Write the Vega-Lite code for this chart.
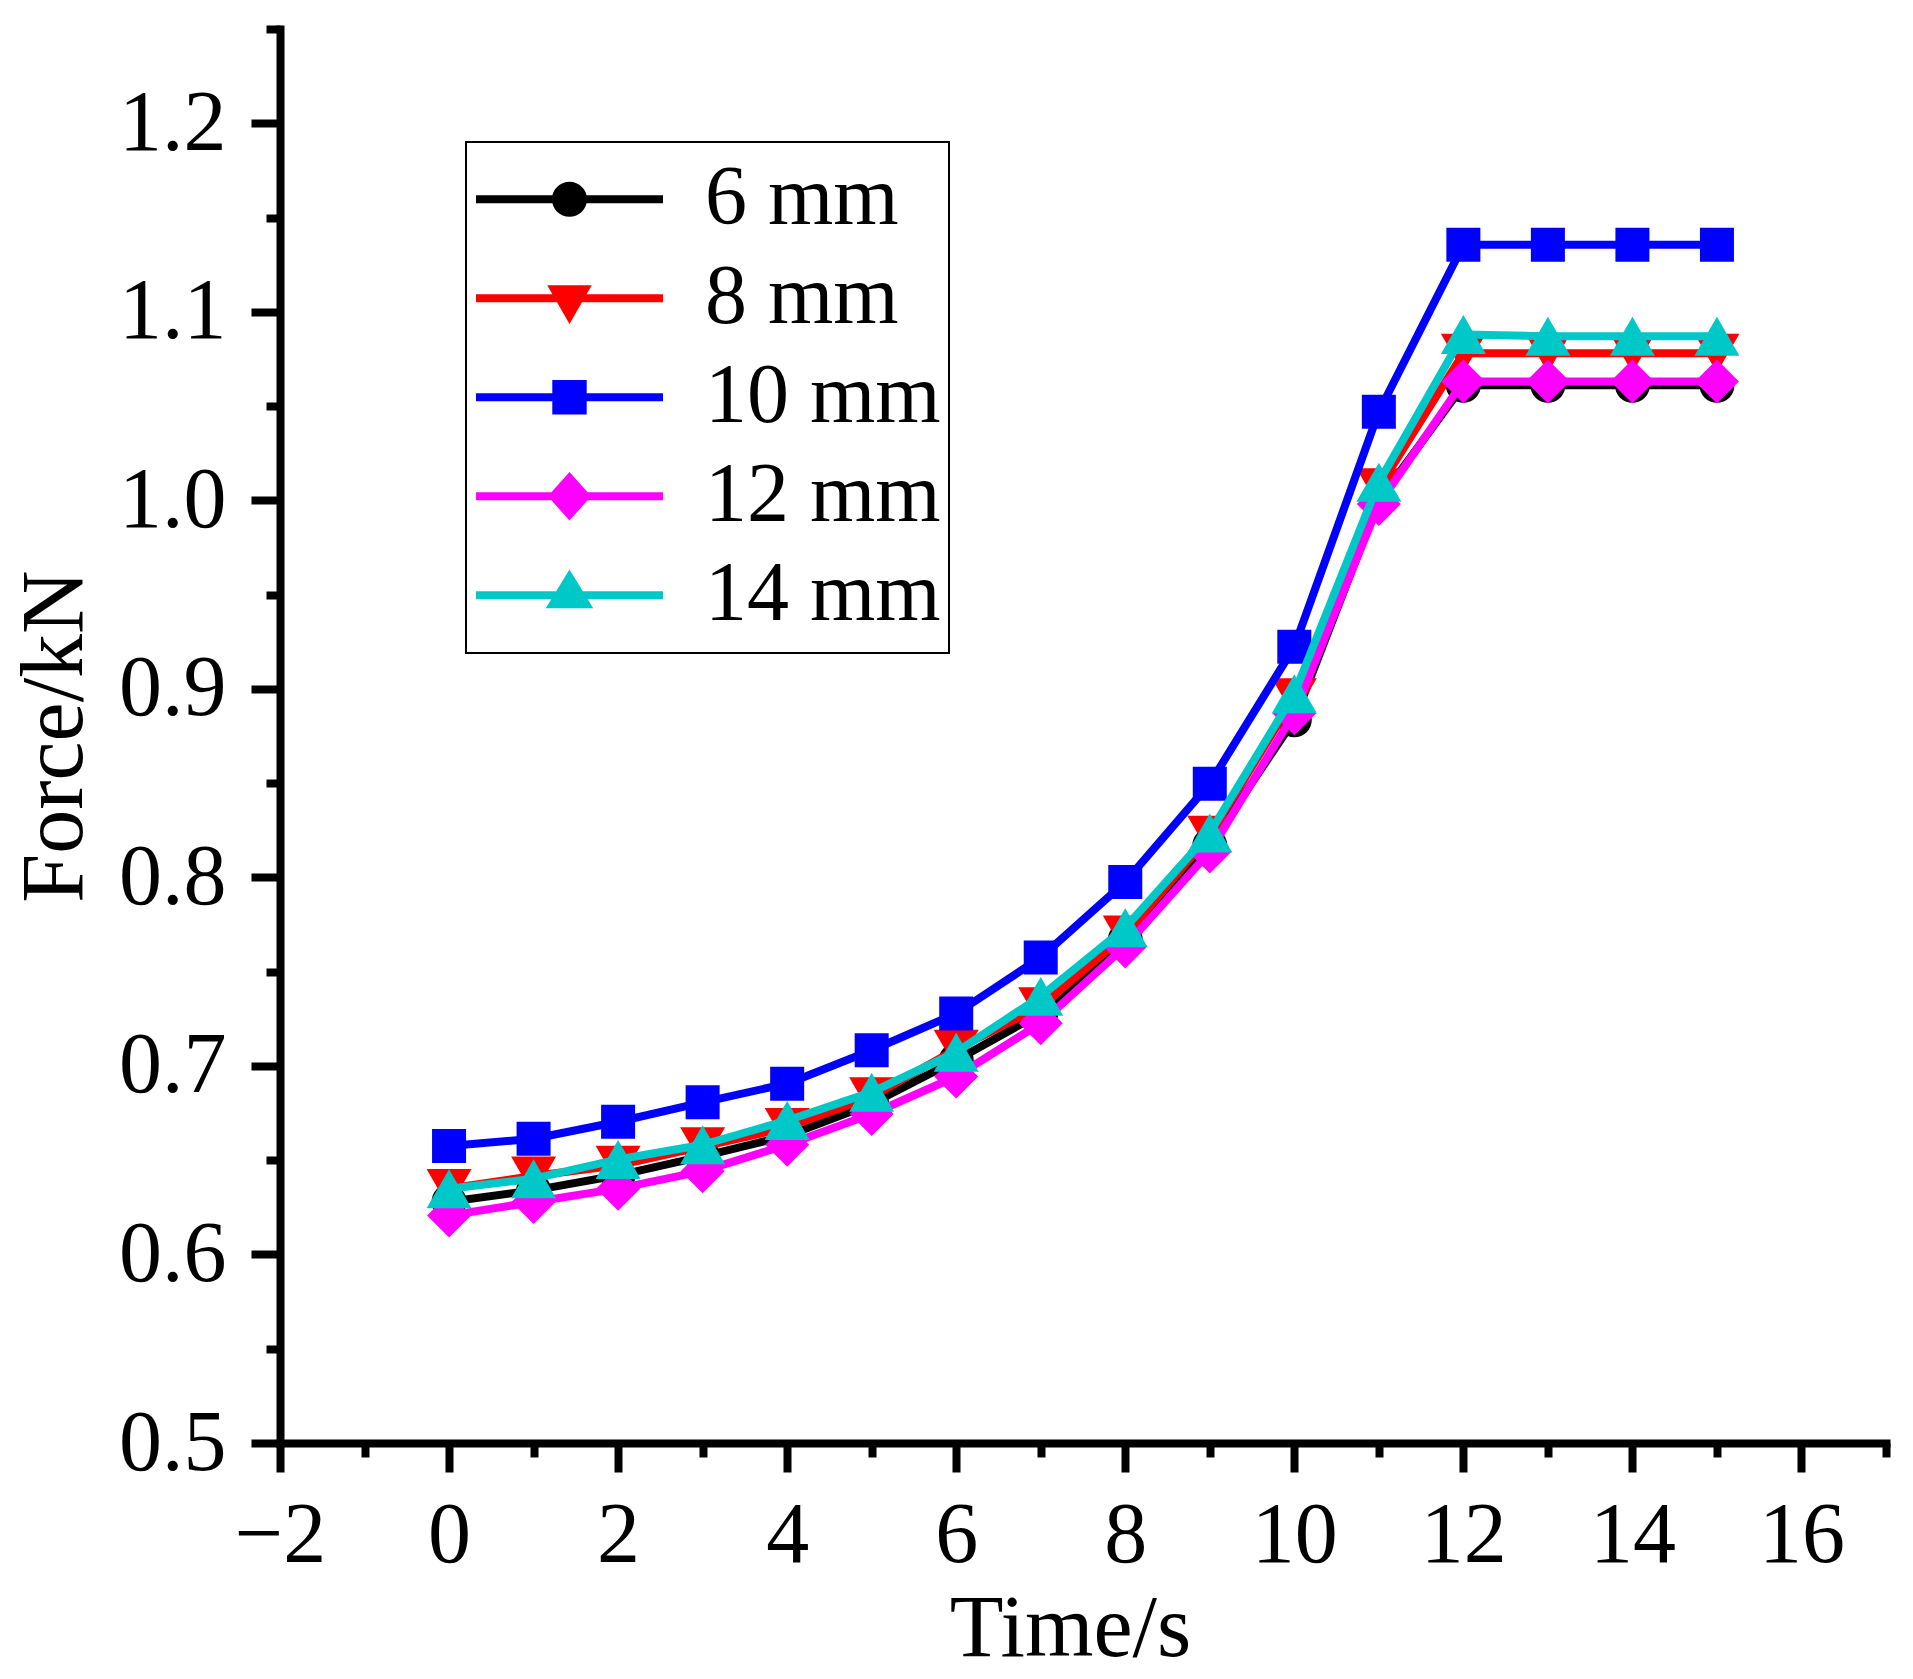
{
  "$schema": "https://vega.github.io/schema/vega-lite/v6.json",
  "autosize": {"type": "none"},
  "padding": {"left": 280, "top": 29, "right": 27, "bottom": 236},
  "width": 1606,
  "height": 1414,
  "background": "white",
  "config": {
    "view": {"stroke": null},
    "font": "Liberation Serif",
    "legend": {"strokeWidth": 2}
  },
  "data": {
    "values": [
      {"series": "6 mm", "t": 0, "force": 0.628},
      {"series": "6 mm", "t": 1, "force": 0.634},
      {"series": "6 mm", "t": 2, "force": 0.642},
      {"series": "6 mm", "t": 3, "force": 0.652},
      {"series": "6 mm", "t": 4, "force": 0.663},
      {"series": "6 mm", "t": 5, "force": 0.680},
      {"series": "6 mm", "t": 6, "force": 0.703},
      {"series": "6 mm", "t": 7, "force": 0.728},
      {"series": "6 mm", "t": 8, "force": 0.767},
      {"series": "6 mm", "t": 9, "force": 0.817},
      {"series": "6 mm", "t": 10, "force": 0.8836},
      {"series": "6 mm", "t": 11, "force": 1.000},
      {"series": "6 mm", "t": 12, "force": 1.061},
      {"series": "6 mm", "t": 13, "force": 1.061},
      {"series": "6 mm", "t": 14, "force": 1.061},
      {"series": "6 mm", "t": 15, "force": 1.061},
      {"series": "8 mm", "t": 0, "force": 0.635},
      {"series": "8 mm", "t": 1, "force": 0.6416},
      {"series": "8 mm", "t": 2, "force": 0.6473},
      {"series": "8 mm", "t": 3, "force": 0.6572},
      {"series": "8 mm", "t": 4, "force": 0.6673},
      {"series": "8 mm", "t": 5, "force": 0.6836},
      {"series": "8 mm", "t": 6, "force": 0.7089},
      {"series": "8 mm", "t": 7, "force": 0.7314},
      {"series": "8 mm", "t": 8, "force": 0.7694},
      {"series": "8 mm", "t": 9, "force": 0.8223},
      {"series": "8 mm", "t": 10, "force": 0.8953},
      {"series": "8 mm", "t": 11, "force": 1.0067},
      {"series": "8 mm", "t": 12, "force": 1.078},
      {"series": "8 mm", "t": 13, "force": 1.078},
      {"series": "8 mm", "t": 14, "force": 1.078},
      {"series": "8 mm", "t": 15, "force": 1.078},
      {"series": "10 mm", "t": 0, "force": 0.6575},
      {"series": "10 mm", "t": 1, "force": 0.6614},
      {"series": "10 mm", "t": 2, "force": 0.6704},
      {"series": "10 mm", "t": 3, "force": 0.6807},
      {"series": "10 mm", "t": 4, "force": 0.6906},
      {"series": "10 mm", "t": 5, "force": 0.7083},
      {"series": "10 mm", "t": 6, "force": 0.7278},
      {"series": "10 mm", "t": 7, "force": 0.7575},
      {"series": "10 mm", "t": 8, "force": 0.7976},
      {"series": "10 mm", "t": 9, "force": 0.8497},
      {"series": "10 mm", "t": 10, "force": 0.9223},
      {"series": "10 mm", "t": 11, "force": 1.047},
      {"series": "10 mm", "t": 12, "force": 1.1355},
      {"series": "10 mm", "t": 13, "force": 1.1355},
      {"series": "10 mm", "t": 14, "force": 1.1355},
      {"series": "10 mm", "t": 15, "force": 1.1355},
      {"series": "12 mm", "t": 0, "force": 0.6207},
      {"series": "12 mm", "t": 1, "force": 0.6278},
      {"series": "12 mm", "t": 2, "force": 0.6349},
      {"series": "12 mm", "t": 3, "force": 0.6442},
      {"series": "12 mm", "t": 4, "force": 0.6582},
      {"series": "12 mm", "t": 5, "force": 0.6745},
      {"series": "12 mm", "t": 6, "force": 0.6944},
      {"series": "12 mm", "t": 7, "force": 0.7227},
      {"series": "12 mm", "t": 8, "force": 0.7634},
      {"series": "12 mm", "t": 9, "force": 0.8137},
      {"series": "12 mm", "t": 10, "force": 0.8871},
      {"series": "12 mm", "t": 11, "force": 0.998},
      {"series": "12 mm", "t": 12, "force": 1.063},
      {"series": "12 mm", "t": 13, "force": 1.063},
      {"series": "12 mm", "t": 14, "force": 1.063},
      {"series": "12 mm", "t": 15, "force": 1.063},
      {"series": "14 mm", "t": 0, "force": 0.6349},
      {"series": "14 mm", "t": 1, "force": 0.6402},
      {"series": "14 mm", "t": 2, "force": 0.6504},
      {"series": "14 mm", "t": 3, "force": 0.6582},
      {"series": "14 mm", "t": 4, "force": 0.6711},
      {"series": "14 mm", "t": 5, "force": 0.6861},
      {"series": "14 mm", "t": 6, "force": 0.7073},
      {"series": "14 mm", "t": 7, "force": 0.7369},
      {"series": "14 mm", "t": 8, "force": 0.7733},
      {"series": "14 mm", "t": 9, "force": 0.8236},
      {"series": "14 mm", "t": 10, "force": 0.8974},
      {"series": "14 mm", "t": 11, "force": 1.0096},
      {"series": "14 mm", "t": 12, "force": 1.088},
      {"series": "14 mm", "t": 13, "force": 1.087},
      {"series": "14 mm", "t": 14, "force": 1.087},
      {"series": "14 mm", "t": 15, "force": 1.087}
    ]
  },
  "encoding": {
    "x": {
      "field": "t", "type": "quantitative",
      "scale": {"domain": [-2, 17], "nice": false, "zero": false},
      "axis": {
        "title": "Time/s",
        "values": [-2, -1, 0, 1, 2, 3, 4, 5, 6, 7, 8, 9, 10, 11, 12, 13, 14, 15, 16, 17],
        "labelExpr": "datum.value % 2 === 0 ? datum.label : ''",
        "tickSize": {"condition": {"test": "datum.value % 2 !== 0", "value": 14}, "value": 29},
        "tickWidth": 8, "tickColor": "black",
        "domainColor": "black", "domainWidth": 8, "domainCap": "square",
        "grid": false,
        "labelFont": "Liberation Serif", "labelFontSize": 86, "labelColor": "black",
        "labelBaseline": "alphabetic", "labelPadding": 89,
        "labelFlush": false, "labelOverlap": false, "labelBound": false,
        "titleFont": "Liberation Serif", "titleFontSize": 88, "titleFontWeight": "normal", "titleColor": "black",
        "titleBaseline": "alphabetic", "titleY": 212, "titleX": 790
      }
    },
    "y": {
      "field": "force", "type": "quantitative",
      "scale": {"domain": [0.5, 1.25], "nice": false, "zero": false},
      "axis": {
        "title": "Force/kN",
        "values": [0.5, 0.55, 0.6, 0.65, 0.7, 0.75, 0.8, 0.85, 0.9, 0.95, 1.0, 1.05, 1.1, 1.15, 1.2, 1.25],
        "labelExpr": "abs(datum.value * 10 - round(datum.value * 10)) < 0.001 ? format(datum.value, '.1f') : ''",
        "tickSize": {"condition": {"test": "abs(datum.value * 10 - round(datum.value * 10)) > 0.001", "value": 14}, "value": 29},
        "tickWidth": 8, "tickColor": "black",
        "domainColor": "black", "domainWidth": 8, "domainCap": "square",
        "grid": false,
        "labelFont": "Liberation Serif", "labelFontSize": 86, "labelColor": "black",
        "labelPadding": 25, "labelBaseline": "middle",
        "labelFlush": false, "labelOverlap": false, "labelBound": false,
        "titleFont": "Liberation Serif", "titleFontSize": 88, "titleFontWeight": "normal", "titleColor": "black",
        "titleBaseline": "alphabetic", "titleX": -199, "titleAngle": -90
      }
    }
  },
  "layer": [
    {"transform": [{"filter": {"field": "series", "equal": "6 mm"}}],
     "mark": {"type": "line", "color": "#000000", "strokeWidth": 8, "strokeJoin": "round", "strokeCap": "round"}},
    {"transform": [{"filter": {"field": "series", "equal": "6 mm"}}],
     "mark": {"type": "point", "shape": "circle", "filled": true, "color": "#000000", "size": 1225, "opacity": 1, "strokeWidth": 0}},
    {"transform": [{"filter": {"field": "series", "equal": "8 mm"}}],
     "mark": {"type": "line", "color": "#FF0000", "strokeWidth": 8, "strokeJoin": "round", "strokeCap": "round"}},
    {"transform": [{"filter": {"field": "series", "equal": "8 mm"}}],
     "mark": {"type": "point", "shape": "triangle-down", "filled": true, "color": "#FF0000", "size": 2025, "opacity": 1, "strokeWidth": 0}},
    {"transform": [{"filter": {"field": "series", "equal": "10 mm"}}],
     "mark": {"type": "line", "color": "#0000FF", "strokeWidth": 8, "strokeJoin": "round", "strokeCap": "round"}},
    {"transform": [{"filter": {"field": "series", "equal": "10 mm"}}],
     "mark": {"type": "point", "shape": "square", "filled": true, "color": "#0000FF", "size": 1156, "opacity": 1, "strokeWidth": 0}},
    {"transform": [{"filter": {"field": "series", "equal": "12 mm"}}],
     "mark": {"type": "line", "color": "#FF00FF", "strokeWidth": 8, "strokeJoin": "round", "strokeCap": "round"}},
    {"transform": [{"filter": {"field": "series", "equal": "12 mm"}}],
     "mark": {"type": "point", "shape": "diamond", "filled": true, "color": "#FF00FF", "size": 1936, "opacity": 1, "strokeWidth": 0}},
    {"transform": [{"filter": {"field": "series", "equal": "14 mm"}}],
     "mark": {"type": "line", "color": "#00C8C8", "strokeWidth": 8, "strokeJoin": "round", "strokeCap": "round"}},
    {"transform": [{"filter": {"field": "series", "equal": "14 mm"}}],
     "mark": {"type": "point", "shape": "triangle-up", "filled": true, "color": "#00C8C8", "size": 2025, "opacity": 1, "strokeWidth": 0}},
    {
      "mark": {"type": "point", "filled": true, "opacity": 0, "strokeWidth": 0},
      "encoding": {
        "color": {
          "field": "series", "type": "nominal",
          "scale": {"domain": ["6 mm", "8 mm", "10 mm", "12 mm", "14 mm"],
                    "range": ["#000000", "#FF0000", "#0000FF", "#FF00FF", "#00C8C8"]},
          "legend": {
            "orient": "none", "legendX": 186, "legendY": 113, "title": null,
            "padding": 8, "strokeColor": "black", "fillColor": "white",
            "symbolSize": 34969, "symbolStrokeWidth": 0, "symbolOpacity": 1, "symbolOffset": 2,
            "clipHeight": 98.5, "rowPadding": 0, "labelOffset": 42,
            "labelFont": "Liberation Serif", "labelFontSize": 84, "labelColor": "black",
            "labelLimit": 0, "labelBaseline": "middle"
          }
        },
        "shape": {
          "field": "series", "type": "nominal",
          "scale": {"domain": ["6 mm", "8 mm", "10 mm", "12 mm", "14 mm"],
                    "range": [
                      "M -1 -0.043 L 1 -0.043 L 1 0.043 L -1 0.043 Z M -0.188 0 A 0.188 0.188 0 1 1 0.188 0 A 0.188 0.188 0 1 1 -0.188 0 Z",
                      "M -1 -0.043 L 1 -0.043 L 1 0.043 L -1 0.043 Z M -0.238 -0.138 L 0.238 -0.138 L 0 0.276 Z",
                      "M -1 -0.043 L 1 -0.043 L 1 0.043 L -1 0.043 Z M -0.184 -0.184 L 0.184 -0.184 L 0.184 0.184 L -0.184 0.184 Z",
                      "M -1 -0.043 L 1 -0.043 L 1 0.043 L -1 0.043 Z M -0.232 0 L 0 -0.26 L 0.232 0 L 0 0.26 Z",
                      "M -1 -0.043 L 1 -0.043 L 1 0.043 L -1 0.043 Z M 0 -0.276 L 0.254 0.138 L -0.254 0.138 Z"
                    ]},
          "legend": {
            "orient": "none", "legendX": 186, "legendY": 113, "title": null,
            "padding": 8, "strokeColor": "black", "fillColor": "white",
            "symbolSize": 34969, "symbolStrokeWidth": 0, "symbolOpacity": 1, "symbolOffset": 2,
            "clipHeight": 98.5, "rowPadding": 0, "labelOffset": 42,
            "labelFont": "Liberation Serif", "labelFontSize": 84, "labelColor": "black",
            "labelLimit": 0, "labelBaseline": "middle"
          }
        }
      }
    }
  ]
}
